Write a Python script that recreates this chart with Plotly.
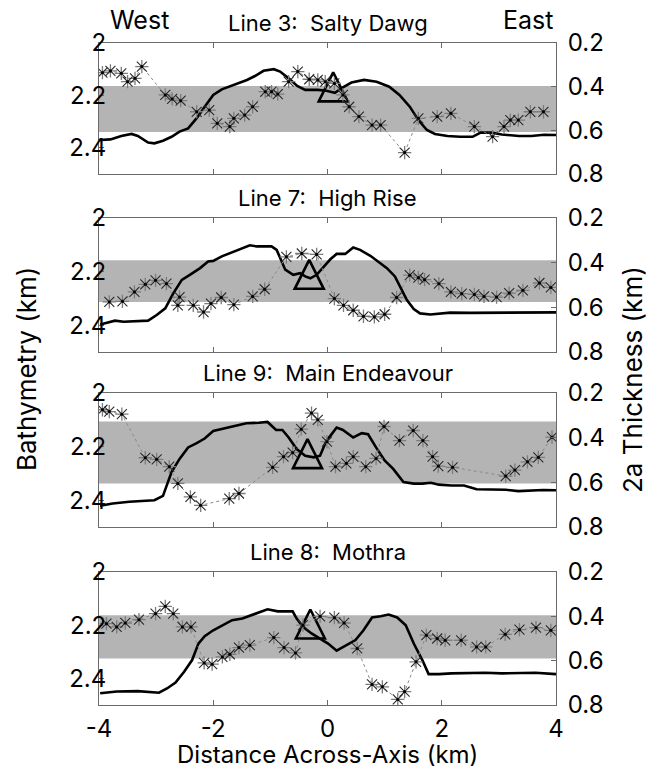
import plotly.graph_objects as go

# ---------------- data ----------------
titles = ["Line 3:  Salty Dawg", "Line 7:  High Rise", "Line 9:  Main Endeavour", "Line 8:  Mothra"]

p1_bathy_x = [-3.98,-3.80,-3.61,-3.43,-3.32,-3.14,-3.03,-2.88,-2.73,-2.59,-2.44,-2.29,-2.15,-2.00,-1.85,-1.63,-1.41,-1.27,-1.12,-0.94,-0.83,-0.68,-0.53,-0.39,-0.17,-0.02,0.13,0.27,0.42,0.64,0.86,1.08,1.26,1.44,1.59,1.74,1.88,2.10,2.32,2.54,2.68,2.87,3.05,3.35,3.57,3.79,4.00]
p1_bathy = [2.370,2.368,2.355,2.347,2.355,2.380,2.383,2.373,2.358,2.338,2.326,2.287,2.243,2.198,2.177,2.160,2.141,2.126,2.106,2.100,2.109,2.135,2.164,2.179,2.179,2.182,2.190,2.169,2.151,2.141,2.148,2.167,2.198,2.243,2.294,2.332,2.347,2.355,2.358,2.358,2.342,2.342,2.349,2.355,2.355,2.350,2.351]
p1_star_x = [-3.94,-3.80,-3.61,-3.50,-3.37,-3.25,-2.84,-2.72,-2.57,-2.29,-2.07,-1.93,-1.71,-1.64,-1.45,-1.31,-1.09,-0.98,-0.87,-0.68,-0.52,-0.32,-0.17,-0.04,0.12,0.27,0.38,0.55,0.78,0.93,1.35,1.59,1.92,2.16,2.57,2.89,3.09,3.20,3.34,3.55,3.78]
p1_star_t = [0.336,0.328,0.339,0.377,0.362,0.308,0.438,0.456,0.464,0.515,0.507,0.568,0.583,0.545,0.530,0.492,0.423,0.423,0.434,0.377,0.331,0.366,0.369,0.377,0.385,0.438,0.492,0.537,0.576,0.576,0.702,0.545,0.537,0.522,0.583,0.629,0.583,0.553,0.553,0.515,0.515]

p2_bathy_x = [-3.98,-3.72,-3.57,-3.34,-3.14,-2.99,-2.84,-2.70,-2.55,-2.41,-2.23,-2.09,-2.00,-1.85,-1.71,-1.50,-1.36,-1.24,-1.18,-0.98,-0.89,-0.80,-0.74,-0.60,-0.48,-0.39,-0.30,-0.19,-0.07,0.05,0.16,0.31,0.45,0.57,0.75,0.89,1.04,1.18,1.27,1.39,1.51,1.62,1.80,1.97,2.15,2.5,3.0,3.5,4.0]
p2_bathy = [2.397,2.383,2.387,2.385,2.383,2.362,2.337,2.281,2.231,2.212,2.187,2.162,2.160,2.143,2.131,2.115,2.102,2.106,2.106,2.106,2.119,2.162,2.193,2.212,2.206,2.218,2.225,2.212,2.181,2.154,2.134,2.134,2.110,2.119,2.141,2.162,2.187,2.218,2.256,2.306,2.340,2.356,2.360,2.356,2.353,2.354,2.353,2.353,2.352]
p2_star_x = [-3.82,-3.59,-3.38,-3.19,-3.01,-2.82,-2.62,-2.59,-2.35,-2.17,-2.04,-1.86,-1.64,-1.31,-1.10,-0.72,-0.45,-0.19,0.12,0.28,0.45,0.63,0.82,1.00,1.21,1.44,1.59,1.70,1.95,2.16,2.35,2.57,2.74,2.96,3.18,3.42,3.71,3.91]
p2_star_t = [0.576,0.573,0.531,0.497,0.479,0.494,0.591,0.554,0.591,0.621,0.583,0.556,0.588,0.551,0.519,0.374,0.359,0.363,0.561,0.591,0.613,0.640,0.643,0.631,0.556,0.456,0.467,0.476,0.494,0.531,0.539,0.542,0.551,0.554,0.536,0.524,0.491,0.511]

p3_bathy_x = [-3.98,-3.76,-3.47,-3.25,-3.03,-2.88,-2.73,-2.59,-2.44,-2.29,-2.15,-2.00,-1.86,-1.64,-1.42,-1.20,-1.05,-0.90,-0.79,-0.68,-0.54,-0.39,-0.24,-0.13,-0.02,0.05,0.16,0.27,0.45,0.60,0.71,0.85,1.00,1.15,1.33,1.51,1.66,1.81,1.95,2.17,2.39,2.61,2.83,3.12,3.34,3.56,3.78,4.00]
p3_bathy = [2.421,2.412,2.406,2.404,2.400,2.384,2.295,2.246,2.203,2.187,2.170,2.142,2.135,2.123,2.113,2.111,2.108,2.138,2.138,2.166,2.209,2.234,2.240,2.234,2.178,2.160,2.129,2.138,2.166,2.150,2.154,2.203,2.252,2.283,2.332,2.338,2.338,2.335,2.342,2.345,2.345,2.359,2.361,2.361,2.366,2.363,2.362,2.363]
p3_star_x = [-3.94,-3.82,-3.60,-3.19,-2.99,-2.77,-2.62,-2.40,-2.22,-1.72,-1.55,-0.96,-0.77,-0.61,-0.46,-0.28,-0.17,-0.01,0.14,0.33,0.45,0.67,0.85,0.99,1.26,1.50,1.67,1.84,1.94,2.19,3.12,3.28,3.50,3.69,3.93]
p3_star_t = [0.275,0.283,0.295,0.490,0.497,0.530,0.605,0.665,0.703,0.673,0.650,0.533,0.485,0.467,0.362,0.290,0.320,0.418,0.530,0.515,0.485,0.530,0.493,0.350,0.413,0.368,0.413,0.485,0.527,0.533,0.572,0.545,0.508,0.488,0.398]

p4_bathy_x = [-3.98,-3.69,-3.32,-2.95,-2.81,-2.66,-2.51,-2.37,-2.26,-2.15,-2.00,-1.86,-1.67,-1.49,-1.34,-1.20,-1.05,-0.87,-0.61,-0.54,-0.43,-0.28,-0.13,0.01,0.16,0.30,0.49,0.63,0.78,0.93,1.07,1.22,1.37,1.51,1.66,1.77,1.95,2.17,2.46,2.76,3.05,3.34,3.64,4.00]
p4_bathy = [2.456,2.449,2.448,2.454,2.438,2.416,2.375,2.331,2.269,2.241,2.219,2.204,2.181,2.175,2.163,2.150,2.140,2.148,2.148,2.175,2.206,2.231,2.250,2.269,2.296,2.279,2.256,2.219,2.171,2.166,2.160,2.171,2.200,2.269,2.331,2.384,2.384,2.381,2.379,2.379,2.381,2.379,2.379,2.384]
p4_star_x = [-3.87,-3.69,-3.54,-3.30,-3.01,-2.84,-2.70,-2.54,-2.39,-2.16,-2.02,-1.84,-1.71,-1.55,-1.36,-0.94,-0.76,-0.56,-0.43,-0.13,0.12,0.29,0.52,0.78,0.96,1.23,1.35,1.55,1.73,1.92,2.06,2.34,2.61,2.77,3.11,3.36,3.65,3.91]
p4_star_t = [0.433,0.448,0.430,0.415,0.388,0.355,0.388,0.448,0.448,0.610,0.616,0.583,0.571,0.541,0.530,0.496,0.541,0.565,0.440,0.400,0.406,0.430,0.545,0.707,0.718,0.775,0.740,0.605,0.485,0.500,0.508,0.508,0.538,0.538,0.481,0.460,0.451,0.463]

band_lo = [0.397, 0.389, 0.328, 0.395]
band_hi = [0.608, 0.576, 0.605, 0.590]
tri_x = [0.10, -0.32, -0.35, -0.30]
tri_bathy = [2.112, 2.156, 2.172, 2.141]

x_ticks = [-4, -2, 0, 2, 4]
bathy_ticks = [2.0, 2.2, 2.4]
bathy_ticktext = ["2", "2.2", "2.4"]
thick_ticks = [0.2, 0.4, 0.6, 0.8]
thick_ticktext = ["0.2", "0.4", "0.6", "0.8"]

bathy_x = [p1_bathy_x, p2_bathy_x, p3_bathy_x, p4_bathy_x]
bathy_y = [p1_bathy, p2_bathy, p3_bathy, p4_bathy]
star_x = [p1_star_x, p2_star_x, p3_star_x, p4_star_x]
star_t = [p1_star_t, p2_star_t, p3_star_t, p4_star_t]

# ---------------- layout geometry ----------------
W, H = 655, 768
panel_px = [(43, 174), (218, 352), (393, 527), (572, 705)]
domains = [[1 - b / H, 1 - t / H] for t, b in panel_px]

FONT = "Inter, Liberation Sans, Arial, sans-serif"
AXC = "#6a6a6a"
TICKF = dict(family=FONT, size=24, color="black")

fig = go.Figure()
layout = dict(
    width=W, height=H,
    margin=dict(l=99, r=99, t=0, b=0, autoexpand=False),
    paper_bgcolor="white", plot_bgcolor="white",
    showlegend=False,
    font=dict(family=FONT, color="black"),
)
shapes = []
annotations = []

for i in range(4):
    n = i + 1
    xn = "x" if n == 1 else f"x{n}"
    yl = "y" if n == 1 else f"y{2 * n - 1}"
    yr = f"y{2 * n}"
    xk = "xaxis" if n == 1 else f"xaxis{n}"
    ylk = "yaxis" if n == 1 else f"yaxis{2 * n - 1}"
    yrk = f"yaxis{2 * n}"

    layout[xk] = dict(
        domain=[0, 1], anchor=yl, range=[-4, 4], tickvals=x_ticks,
        ticktext=[str(v) for v in x_ticks],
        showticklabels=(n == 4), ticks="inside", ticklen=5, tickcolor=AXC,
        showline=True, linecolor=AXC, linewidth=1, mirror="ticks",
        showgrid=False, zeroline=False, tickfont=TICKF, ticklabelstandoff=2,
        automargin=False,
    )
    layout[ylk] = dict(
        domain=domains[i], anchor=xn, range=[2.5, 2.0], tickvals=bathy_ticks,
        ticktext=bathy_ticktext, ticks="inside", ticklen=5, tickcolor=AXC,
        showline=True, linecolor=AXC, linewidth=1,
        showgrid=False, zeroline=False, tickfont=TICKF, ticklabelstandoff=-13,
        automargin=False,
    )
    layout[yrk] = dict(
        domain=domains[i], anchor=xn, overlaying=yl, side="right",
        range=[0.8, 0.2], tickvals=thick_ticks, ticktext=thick_ticktext,
        ticks="inside", ticklen=5, tickcolor=AXC,
        showline=True, linecolor=AXC, linewidth=1,
        showgrid=False, zeroline=False, tickfont=TICKF, ticklabelstandoff=6,
        automargin=False,
    )

    shapes.append(dict(
        type="rect", xref=f"{xn} domain", yref=yr, x0=0, x1=1,
        y0=band_lo[i], y1=band_hi[i], fillcolor="#b4b4b4",
        line=dict(width=0), layer="below",
    ))

    # bathymetry profile
    fig.add_trace(go.Scatter(
        x=bathy_x[i], y=bathy_y[i], xaxis=xn, yaxis=yl, mode="lines",
        line=dict(color="black", width=2.6), hoverinfo="skip",
    ))
    # triangle marker
    fig.add_trace(go.Scatter(
        x=[tri_x[i]], y=[tri_bathy[i]], xaxis=xn, yaxis=yl, mode="markers",
        marker=dict(symbol="arrow-up-open", size=29, color="black",
                    line=dict(color="black", width=2.6)),
        hoverinfo="skip",
    ))
    # 2a thickness: dotted line + stars
    fig.add_trace(go.Scatter(
        x=star_x[i], y=star_t[i], xaxis=xn, yaxis=yr, mode="lines",
        line=dict(color="#8a8a8a", width=1, dash="dot"), hoverinfo="skip",
    ))
    fig.add_trace(go.Scatter(
        x=star_x[i], y=star_t[i], xaxis=xn, yaxis=yr, mode="markers",
        marker=dict(symbol="cross-thin-open", size=9.5, color="#7c7c7c",
                    line=dict(color="#7c7c7c", width=1.3)),
        hoverinfo="skip",
    ))
    fig.add_trace(go.Scatter(
        x=star_x[i], y=star_t[i], xaxis=xn, yaxis=yr, mode="markers",
        marker=dict(symbol="x-thin-open", size=10, color="#2a2a2a",
                    line=dict(color="#2a2a2a", width=1.1)),
        hoverinfo="skip",
    ))
    fig.add_trace(go.Scatter(
        x=star_x[i], y=star_t[i], xaxis=xn, yaxis=yr, mode="markers",
        marker=dict(symbol="circle", size=3, color="black", line=dict(width=0)),
        hoverinfo="skip",
    ))

    annotations.append(dict(
        text=titles[i], xref="paper", yref="paper", x=0.5, y=domains[i][1],
        xanchor="center", yanchor="bottom", yshift=5, showarrow=False,
        font=dict(family=FONT, size=22, color="black"),
    ))

annotations += [
    dict(text="West", xref="paper", yref="paper", x=0.0897, y=domains[0][1],
         xanchor="center", yanchor="bottom", yshift=6, showarrow=False,
         font=dict(family=FONT, size=25, color="black")),
    dict(text="East", xref="paper", yref="paper", x=0.939, y=domains[0][1],
         xanchor="center", yanchor="bottom", yshift=6, showarrow=False,
         font=dict(family=FONT, size=25, color="black")),
    dict(text="Bathymetry (km)", xref="paper", yref="paper", x=(26 - 99) / 457,
         y=1 - 369 / H, xanchor="center", yanchor="middle", textangle=-90,
         showarrow=False, font=dict(family=FONT, size=26, color="black")),
    dict(text="2a Thickness (km)", xref="paper", yref="paper", x=(632 - 99) / 457,
         y=1 - 380 / H, xanchor="center", yanchor="middle", textangle=-90,
         showarrow=False, font=dict(family=FONT, size=26, color="black")),
    dict(text="Distance Across-Axis (km)", xref="paper", yref="paper", x=0.5,
         y=1 - 754 / H, xanchor="center", yanchor="middle",
         showarrow=False, font=dict(family=FONT, size=24, color="black")),
]

layout["shapes"] = shapes
layout["annotations"] = annotations
fig.update_layout(**layout)
fig.write_html("out.html")
